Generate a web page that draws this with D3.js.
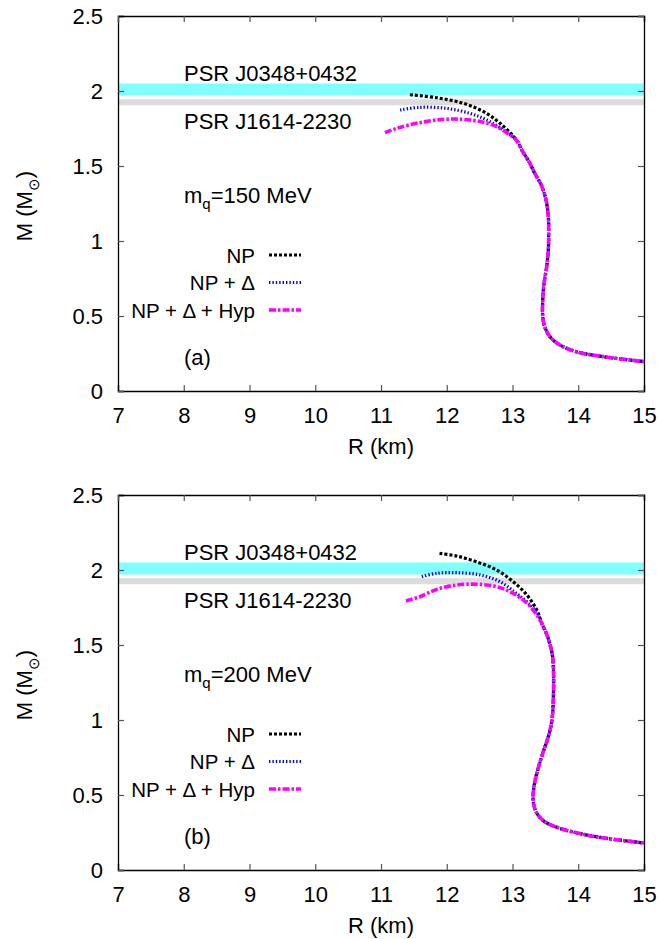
<!DOCTYPE html>
<html lang="en">
<head>
    <meta charset="UTF-8">
    <title>M-R curves</title>
    <script src="https://d3js.org/d3.v7.min.js"></script>
    <style>
        body { margin: 0; background: #fff; }
        svg text { font-family: "Liberation Sans", Arial, sans-serif; fill: #000; }
    </style>
</head>
<body>
<svg id="chart"></svg>
<script>
    /* data: [R (km), M (Msun)] */
    const xTicks = [7, 8, 9, 10, 11, 12, 13, 14, 15];
    const yTicks = [0, 0.5, 1, 1.5, 2, 2.5];
    const seriesNames = ["NP", "NP + \u0394", "NP + \u0394 + Hyp"];
    const panelTags = ["(a)", "(b)"];
    const quarkMasses = [150, 200];
    const psrNames = ["PSR J0348+0432", "PSR J1614-2230"];
    const psrBands = [[1.97, 2.05], [1.905, 1.945]];

    // mq = 150 MeV
    const tailA = [[13.06, 1.673], [13.15, 1.60], [13.25, 1.53], [13.34, 1.45], [13.44, 1.37], [13.51, 1.273],
        [13.545, 1.162], [13.55, 1.051], [13.545, 0.94], [13.52, 0.829], [13.48, 0.718], [13.46, 0.607],
        [13.46, 0.495], [13.49, 0.429], [13.57, 0.362], [13.72, 0.307], [13.97, 0.262], [14.38, 0.229],
        [15.0, 0.196]];
    const npA = [[11.44, 1.975], [11.85, 1.955], [12.25, 1.918], [12.56, 1.862], [12.81, 1.785]];
    const npDeltaA = [[11.29, 1.873], [11.59, 1.891], [12.0, 1.884], [12.35, 1.851], [12.61, 1.807], [12.86, 1.74]];
    const npDeltaHypA = [[11.06, 1.722], [11.24, 1.751], [11.59, 1.789], [11.95, 1.811], [12.25, 1.811],
        [12.51, 1.796], [12.76, 1.762], [12.96, 1.707]];

    // mq = 200 MeV
    const tailB = [[13.45, 1.64], [13.53, 1.56], [13.59, 1.47], [13.615, 1.40], [13.625, 1.222], [13.60, 1.0],
        [13.545, 0.889], [13.46, 0.778], [13.37, 0.645], [13.32, 0.533], [13.32, 0.444], [13.37, 0.378],
        [13.49, 0.322], [13.72, 0.278], [14.13, 0.233], [14.53, 0.205], [15.0, 0.18]];
    const npB = [[11.89, 2.111], [12.15, 2.093], [12.45, 2.055], [12.76, 2.0], [13.01, 1.922], [13.22, 1.833],
        [13.37, 1.733]];
    const npDeltaB = [[11.62, 1.956], [11.85, 1.978], [12.15, 1.982], [12.51, 1.967], [12.81, 1.922],
        [13.06, 1.844], [13.27, 1.767], [13.38, 1.71]];
    const npDeltaHypB = [[11.38, 1.793], [11.59, 1.822], [11.85, 1.871], [12.15, 1.9], [12.45, 1.905],
        [12.76, 1.889], [13.01, 1.844], [13.22, 1.778], [13.37, 1.70]];

    /* layout */
    const width = 659;
    const height = 939;
    const left = 118;
    const right = 644;
    const panelTops = [16, 495];
    const plotH = 375;
    const fontSize = 22;
    const legendFont = 20.5;

    const styles = [
        {color: "#000", width: 3.2, dash: "3,2"},
        {color: "#0000ff", width: 3.2, dash: "1.4,2"},
        {color: "#ff00ff", width: 3.6, dash: "7,2,2.5,2"}
    ];

    const svg = d3.select("#chart")
        .attr("width", width)
        .attr("height", height);

    const x = d3.scaleLinear().domain([7, 15]).range([left, right]);

    const panels = [
        {curves: [npA.concat(tailA), npDeltaA.concat(tailA), npDeltaHypA.concat(tailA)]},
        {curves: [npB.concat(tailB), npDeltaB.concat(tailB), npDeltaHypB.concat(tailB)]}
    ];

    panels.forEach((panel, i) => {
        const top = panelTops[i];
        const y = d3.scaleLinear().domain([0, 2.5]).range([top + plotH, top]);
        const g = svg.append("g");

        /* pulsar bands */
        psrBands.forEach((b, k) => {
            g.append("rect")
                .attr("x", x(7))
                .attr("width", x(15) - x(7))
                .attr("y", y(b[1]))
                .attr("height", y(b[0]) - y(b[1]))
                .attr("fill", k === 0 ? "#80ffff" : "#dcdcdc");
        });

        /* axes, ticks inward, mirrored */
        g.append("g").attr("transform", `translate(0,${y(0)})`)
            .call(d3.axisBottom(x).tickValues(xTicks).tickSize(-6).tickPadding(16).tickFormat(d3.format("d")));
        g.append("g").attr("transform", `translate(${left},0)`)
            .call(d3.axisLeft(y).tickValues(yTicks).tickSize(-6).tickPadding(15).tickFormat(d => d));
        g.append("g").attr("transform", `translate(0,${top})`)
            .call(d3.axisTop(x).tickValues(xTicks).tickSize(-6).tickFormat(""));
        g.append("g").attr("transform", `translate(${right},0)`)
            .call(d3.axisRight(y).tickValues(yTicks).tickSize(-6).tickFormat(""));
        g.selectAll(".domain").attr("stroke", "#000").attr("stroke-width", 1.3);
        g.selectAll(".tick line").attr("stroke", "#555").attr("stroke-width", 1.2);
        g.selectAll(".tick text").style("font-size", `${fontSize}px`)
            .style("font-family", "'Liberation Sans', Arial, sans-serif").attr("fill", "#000");

        /* curves */
        const line = d3.line()
            .x(d => x(d[0]))
            .y(d => y(d[1]))
            .curve(d3.curveCatmullRom.alpha(0.5));
        panel.curves.forEach((c, k) => {
            g.append("path")
                .attr("d", line(c))
                .attr("fill", "none")
                .attr("stroke", styles[k].color)
                .attr("stroke-width", styles[k].width)
                .attr("stroke-dasharray", styles[k].dash);
        });

        /* labels */
        g.append("text").attr("x", 184).attr("y", top + 65).style("font-size", `${fontSize}px`).text(psrNames[0]);
        g.append("text").attr("x", 184).attr("y", top + 113).style("font-size", `${fontSize}px`).text(psrNames[1]);

        const mq = g.append("text").attr("x", 184).attr("y", top + 187).style("font-size", `${fontSize}px`);
        mq.append("tspan").text("m");
        mq.append("tspan").attr("dy", 6).style("font-size", "15px").text("q");
        mq.append("tspan").attr("dy", -6).text(`=${quarkMasses[i]} MeV`);

        g.append("text").attr("x", 184).attr("y", top + 349).style("font-size", `${fontSize}px`).text(panelTags[i]);

        /* legend */
        seriesNames.forEach((name, k) => {
            const ly = top + 239 + k * 27.5;
            g.append("text")
                .attr("x", 255).attr("y", ly + 7.5)
                .attr("text-anchor", "end")
                .style("font-size", `${legendFont}px`)
                .text(name);
            g.append("line")
                .attr("x1", 269).attr("x2", 301)
                .attr("y1", ly).attr("y2", ly)
                .attr("stroke", styles[k].color)
                .attr("stroke-width", styles[k].width)
                .attr("stroke-dasharray", styles[k].dash);
        });

        /* axis titles */
        g.append("text")
            .attr("x", (left + right) / 2).attr("y", top + plotH + 63)
            .attr("text-anchor", "middle")
            .style("font-size", `${fontSize}px`)
            .text("R (km)");

        const yl = g.append("text")
            .attr("transform", `translate(32,${top + 190}) rotate(-90)`)
            .attr("text-anchor", "middle")
            .style("font-size", `${fontSize}px`);
        yl.append("tspan").text("M (M");
        yl.append("tspan").attr("dy", 7).style("font-size", "15px").text("\u2299");
        yl.append("tspan").attr("dy", -7).text(")");
    });
</script>
</body>
</html>
